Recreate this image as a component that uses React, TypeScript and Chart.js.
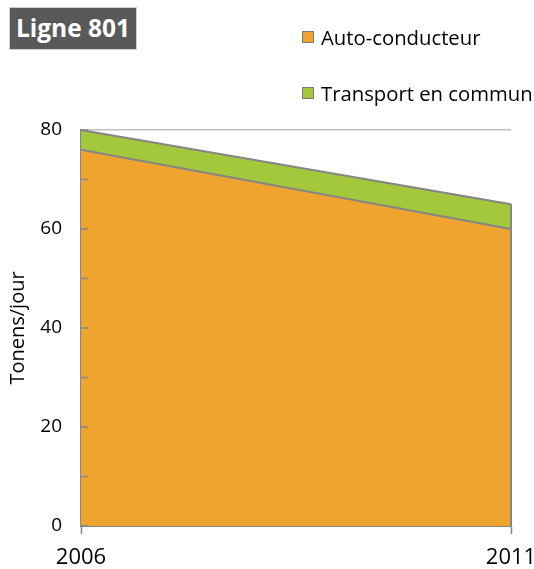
import React, { useEffect, useRef } from "react";
import { Chart, registerables } from "chart.js";

Chart.register(...registerables);

const years = ["2006", "2011"];
const autoConducteur = [76, 60];
const transportEnCommun = [4, 5];
const seriesNames = ["Auto-conducteur", "Transport en commun"];
const seriesColors = ["#EFA42F", "#A3C83B"];
const yTickValues = [0, 10, 20, 30, 40, 50, 60, 70, 80];

const FONT = "'Open Sans', 'Noto Sans', sans-serif";
const GREY = "#858585";

const edgePlugin = {
  id: "edges",
  afterDatasetsDraw(chart: any) {
    const { ctx, chartArea, scales } = chart;
    const x = scales.x;
    const y = scales.y;
    ctx.save();
    ctx.strokeStyle = GREY;
    ctx.lineWidth = 2;
    const lastIdx = years.length - 1;
    const top = autoConducteur[lastIdx] + transportEnCommun[lastIdx];
    const px = x.getPixelForValue(lastIdx);
    ctx.beginPath();
    ctx.moveTo(px, y.getPixelForValue(top));
    ctx.lineTo(px, y.getPixelForValue(0));
    ctx.stroke();
    ctx.lineWidth = 1.5;
    yTickValues.forEach((v) => {
      const py = y.getPixelForValue(v);
      ctx.beginPath();
      ctx.moveTo(chartArea.left, py);
      ctx.lineTo(chartArea.left + 7, py);
      ctx.stroke();
    });
    ctx.restore();
  },
};

export default function App() {
  const ref = useRef<HTMLCanvasElement>(null);

  useEffect(() => {
    if (!ref.current) return;
    const chart = new Chart(ref.current, {
      type: "line",
      data: {
        labels: years,
        datasets: [
          {
            label: seriesNames[0],
            data: autoConducteur,
            backgroundColor: seriesColors[0],
            borderColor: GREY,
            borderWidth: 2,
            fill: "origin",
            pointRadius: 0,
            tension: 0,
          },
          {
            label: seriesNames[1],
            data: transportEnCommun,
            backgroundColor: seriesColors[1],
            borderColor: GREY,
            borderWidth: 2,
            fill: "-1",
            pointRadius: 0,
            tension: 0,
          },
        ],
      },
      plugins: [edgePlugin],
      options: {
        animation: false,
        responsive: true,
        maintainAspectRatio: false,
        layout: { padding: { top: 130, right: 23, left: 0, bottom: 0 } },
        plugins: {
          legend: { display: false },
          tooltip: { enabled: false },
        },
        scales: {
          x: {
            type: "category",
            offset: false,
            grid: {
              color: "transparent",
              drawOnChartArea: false,
              drawTicks: true,
              tickLength: 8,
              tickColor: GREY,
              tickWidth: 1.5,
            },
            border: { display: true, color: GREY, width: 2 },
            ticks: {
              color: "#000",
              font: { family: FONT, size: 22 },
              padding: 11,
              maxRotation: 0,
              autoSkip: false,
            },
            afterFit(scale: any) {
              scale.height = 43;
              scale.paddingLeft = 0;
              scale.paddingRight = 0;
            },
          },
          y: {
            stacked: true,
            min: 0,
            max: 80,
            grid: {
              drawTicks: false,
              color: (c: any) =>
                c.tick && c.tick.value === 80 ? "#c0c0c0" : "transparent",
              lineWidth: 1.5,
            },
            border: { display: true, color: GREY, width: 2 },
            ticks: {
              stepSize: 10,
              color: "#000",
              font: { family: FONT, size: 19 },
              padding: 19,
              callback: (v: any) => (Number(v) % 20 === 0 ? String(v) : ""),
            },
            title: {
              display: true,
              text: "Tonens/jour",
              color: "#000",
              font: { family: FONT, size: 20 },
              padding: { top: 6, bottom: 0 },
            },
            afterFit(scale: any) {
              scale.width = 81;
            },
          },
        },
      },
    });
    return () => chart.destroy();
  }, []);

  return (
    <div
      style={{
        position: "fixed",
        left: 0,
        top: 0,
        width: 534,
        height: 569,
        background: "#fff",
        fontFamily: FONT,
      }}
    >
      <canvas ref={ref} />
      <div
        style={{
          position: "absolute",
          left: 9,
          top: 7,
          width: 128,
          height: 43,
          background: "#595959",
          border: "1px solid #d0d0d0",
          boxSizing: "border-box",
          color: "#fff",
          fontWeight: 700,
          fontSize: 24.5,
          lineHeight: "40px",
          textAlign: "center",
          whiteSpace: "nowrap",
        }}
      >
        Ligne 801
      </div>
      {seriesNames.map((name, i) => (
        <div
          key={name}
          style={{
            position: "absolute",
            left: 302,
            top: i === 0 ? 23 : 79,
            height: 28,
            display: "flex",
            alignItems: "center",
            whiteSpace: "nowrap",
            fontSize: 20.3,
            color: "#000",
          }}
        >
          <span
            style={{
              display: "inline-block",
              width: 12,
              height: 12,
              background: seriesColors[i],
              border: "1px solid #7a7a7a",
              boxSizing: "border-box",
              marginRight: 7,
            }}
          />
          {name}
        </div>
      ))}
    </div>
  );
}
